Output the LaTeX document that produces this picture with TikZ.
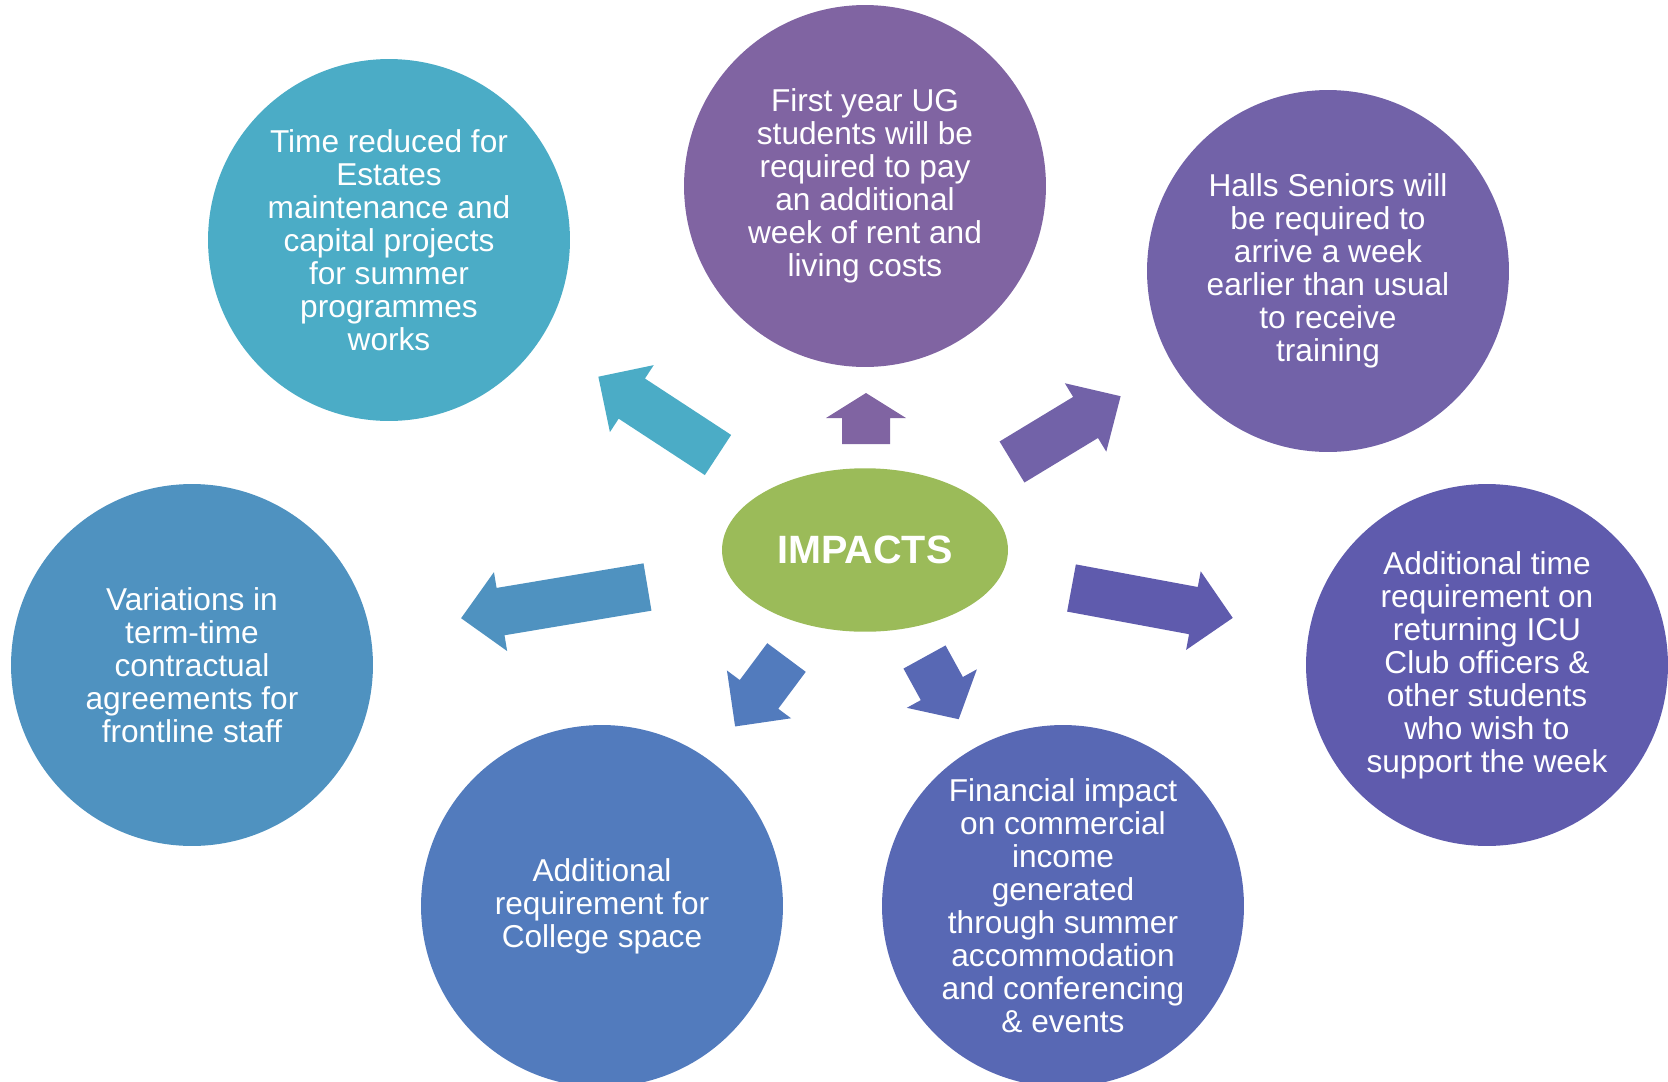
\documentclass[tikz,border=0pt]{standalone}
\usepackage{fontspec}
\setmainfont{Liberation Sans}
\usetikzlibrary{shapes.geometric}

\definecolor{cteal}{HTML}{4BACC6}
\definecolor{csteel}{HTML}{4F92C0}
\definecolor{cblue}{HTML}{527BBD}
\definecolor{cindigo}{HTML}{5868B4}
\definecolor{cviolet}{HTML}{5F5BAD}
\definecolor{cpurple}{HTML}{7262A8}
\definecolor{cplum}{HTML}{8064A2}
\definecolor{cgreen}{HTML}{9BBB59}

% block arrow: colour, base point, angle, length, head length
\newcommand{\blockarrow}[5]{%
  \begin{scope}[shift={#2}, rotate=#3]
    \fill [#1] (0,-24) -- (#4-#5,-24) -- (#4-#5,-40) -- (#4,0)
      -- (#4-#5,40) -- (#4-#5,24) -- (0,24) -- cycle;
  \end{scope}}

\begin{document}
\begin{tikzpicture}[x=0.02cm, y=-0.02cm,
    impact/.style={circle, minimum size=7.24cm, inner sep=0pt, align=center,
      text=white, font=\fontsize{18}{18.8}\selectfont}]
  \useasboundingbox (0,0) rectangle (1668,1082);

  \node [impact, fill=cteal] (estates) at (389,240)
    {Time reduced for\\Estates\\maintenance and\\capital projects\\for summer\\programmes\\works};
  \node [impact, fill=cplum] (rent) at (865,186)
    {First year UG\\students will be\\required to pay\\an additional\\week of rent and\\living costs};
  \node [impact, fill=cpurple] (seniors) at (1328,271)
    {Halls Seniors will\\be required to\\arrive a week\\earlier than usual\\to receive\\training};
  \node [impact, fill=cviolet] (officers) at (1487,665)
    {Additional time\\requirement on\\returning ICU\\Club officers \&\\other students\\who wish to\\support the week};
  \node [impact, fill=cindigo] (income) at (1063,906)
    {Financial impact\\on commercial\\income\\generated\\through summer\\accommodation\\and conferencing\\\& events};
  \node [impact, fill=cblue] (space) at (602,906)
    {Additional\\requirement for\\College space};
  \node [impact, fill=csteel] (staff) at (192,665)
    {Variations in\\term-time\\contractual\\agreements for\\frontline staff};

  \node [ellipse, fill=cgreen, minimum width=5.72cm, minimum height=3.27cm,
    text=white, font=\fontsize{22.5}{26}\bfseries] (impacts) at (865,550) {IMPACTS};

  \blockarrow{cteal}{(718,455)}{146.8}{143}{40}
  \blockarrow{cplum}{(866,444)}{90}{51}{25}
  \blockarrow{cpurple}{(1012,462)}{31.2}{127}{41}
  \blockarrow{cviolet}{(1071.5,588)}{-10.5}{164}{40}
  \blockarrow{cindigo}{(924.5,657)}{-61.2}{71}{35}
  \blockarrow{cblue}{(786.5,657.5)}{233.3}{86}{40}
  \blockarrow{csteel}{(647.5,587)}{189.5}{189}{40}
\end{tikzpicture}
\end{document}
